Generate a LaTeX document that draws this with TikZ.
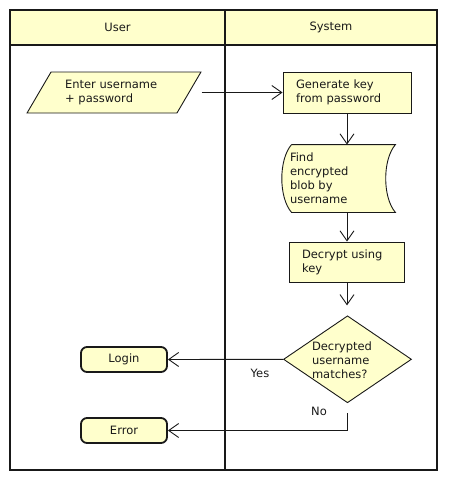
\documentclass[tikz,border=0pt]{standalone}
\usepackage{fontspec}
\setmainfont{DejaVu Sans}
\usepackage{tikz}
\usetikzlibrary{
	positioning
	,shapes.geometric
	,arrows.meta
}
\definecolor{notefill}{RGB}{255,255,204}
\newcommand{\flow}[3][]{
	\draw[#1] (#2) -- (#3);
}
\tikzset{
	lane/.style={
		line width=1.8pt
	},
	tag/.style={
		font=\fontsize{11.5}{14}\selectfont,
		inner sep=0pt
	}
}
\tikzset{default node/.style={
	draw,
	fill=notefill,
	inner sep=0pt,
	font=\fontsize{11.5}{14}\selectfont,
}}
\tikzset{
	proc/.style={default node, rectangle, align=left, inner xsep=13pt, minimum height=41pt}
	,io/.style={default node, trapezium, trapezium left angle=53, trapezium right angle=127,
		trapezium stretches=true, minimum width=174pt, minimum height=41pt, align=left, text width=98pt}
	,terminal/.style={default node, rounded corners=6pt, line width=1.8pt, minimum width=86pt, minimum height=25pt}
	,decision/.style={default node, diamond, minimum width=128pt, minimum height=87pt}
	,stored/.style={rectangle, inner sep=0pt, minimum width=103pt, minimum height=67pt}
}

\begin{document}
\begin{tikzpicture}[x=1pt, y=-1pt, >={Straight Barb[length=10pt,width=14pt]}, line width=0.9pt, black!90]
	\useasboundingbox (0,0) rectangle (448,480);

	% lanes
	\draw[lane, fill=notefill] (10,10) rectangle (437,45);
	\draw[lane] (10,10) rectangle (437,470);
	\draw[lane] (225,10) -- (225,470);
	\node[tag] (user) at (117.5,27.5) {User};
	\node[tag] (system) at (331,27.5) {System};

	% user side
	\node[io] (enter) at (114,92.5) {Enter username\\+ password};
	\node[terminal] (login) at (124,359.5) {Login};
	\node[terminal] (error) at (124,430.5) {Error};

	% system side
	\node[proc, text width=102pt] (gen) at (347,92.5) {Generate key\\from password};
	\node[stored] (find) at (343.5,178.5) {};
	\draw[fill=notefill] (find.north west) -- (find.north east)
		.. controls +(-13,15) and +(-13,-15) .. (find.south east)
		-- (find.south west)
		.. controls +(-13,-15) and +(-13,15) .. (find.north west);
	\node[tag, anchor=west, align=left] (findtext) at ([xshift=-2pt]find.west) {Find\\encrypted\\blob by\\username};
	\node[proc, text width=89pt, minimum height=40pt] (decr) at (346.5,262) {Decrypt using\\key};
	\node[decision] (dec) at (347.5,359.3) {};
	\node[tag, align=left] (dectext) at (342,360) {Decrypted\\username\\matches?};

	% connectors
	\draw[->] (enter.top right corner |- enter) -- (gen);
	\foreach \a/\b in{
		gen/find,find/decr%
	}{
		\draw[->] (gen.south |- \a.south) -- (gen.south |- \b.north);
	}
	\draw[->, shorten >=10pt] (gen.south |- decr.south) -- (gen.south |- dec.north);
	\flow[->]{dec.west}{login.east}
	\draw[->, shorten <=10pt] (dec.south) |- (error.east);
	\node[tag] (yes) at (260,373) {Yes};
	\node[tag] (no) at (319,411) {No};
\end{tikzpicture}
\end{document}
